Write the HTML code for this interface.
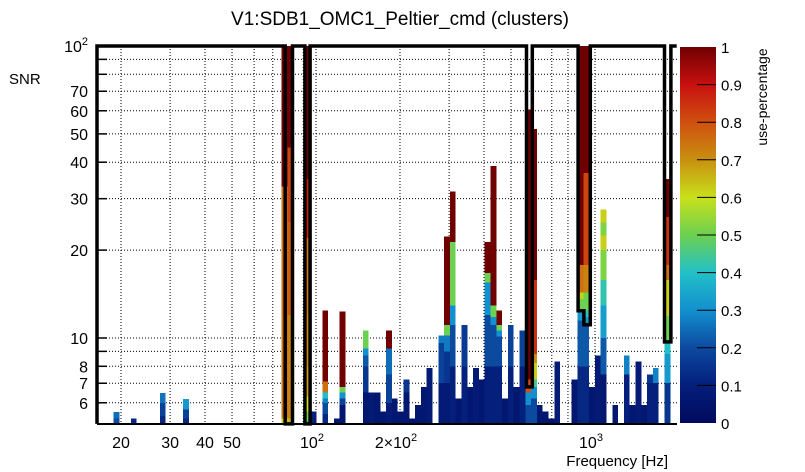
<!DOCTYPE html>
<html><head><meta charset="utf-8"><style>
body{margin:0;background:#fff;}
svg{display:block;font-family:"Liberation Sans",sans-serif;}
</style></head><body>
<svg id="chart" width="805" height="472" viewBox="0 0 805 472">
<defs>
<linearGradient id="cbar" x1="0" y1="1" x2="0" y2="0">
<stop offset="0" stop-color="#000a5c"/><stop offset="0.1" stop-color="#041f7c"/><stop offset="0.2" stop-color="#0c4aa0"/>
<stop offset="0.3" stop-color="#1390cf"/><stop offset="0.4" stop-color="#22c0c8"/><stop offset="0.5" stop-color="#6cd050"/>
<stop offset="0.6" stop-color="#c8e01a"/><stop offset="0.7" stop-color="#c89010"/><stop offset="0.8" stop-color="#d05010"/>
<stop offset="0.9" stop-color="#c81010"/><stop offset="1" stop-color="#700000"/>
</linearGradient>
</defs>
<rect x="0" y="0" width="805" height="472" fill="#fff"/>
<text x="400" y="25" font-size="19" text-anchor="middle">V1:SDB1_OMC1_Peltier_cmd (clusters)</text>
<text x="9" y="84" font-size="15">SNR</text>
<text x="668" y="466" font-size="15" text-anchor="end">Frequency [Hz]</text>
<g id="grid"></g>
<g id="cells"></g>
<g id="axes"></g>
<g id="outline"></g>
<g id="cb">
<rect x="680" y="47" width="36" height="376" fill="url(#cbar)"/>
<text x="767" y="97" font-size="14" text-anchor="middle" transform="rotate(-90 767 97)">use-percentage</text>
</g>
</svg>
<script>
// ---- data ----
const xGridFreqs = [20,30,40,50,60,70,80,90,100,200,300,400,500,600,700,800,900,1000];
const yGridSnr = [6,7,8,9,10,20,30,40,50,60,70,80,90];
const xTickLabels = [["20",20],["30",30],["40",40],["50",50]];
const yTickLabels = ["6","7","8","10","20","30","40","50","60","70"];
const yTickVals = [6,7,8,10,20,30,40,50,60,70];
const cbTicks = [0,0.1,0.2,0.3,0.4,0.5,0.6,0.7,0.8,0.9,1];
const binIdx = [2,5,10,14,31,32,35,36,38,40,41,45,46,47,48,49,50,51,52,53,54,55,56,58,59,60,61,62,63,64,65,66,67,68,69,70,71,72,73,74,75,76,77,78,81,82,83,84,85,86,88,90,91,92,93,94,95,97];
const segTops = [
[5.3,5.58],[5.3],[5.4,6.0,6.48],[5.3,5.7,6.18],
[5.3,33,100],[5.3,12,25,45,100],[5.2,5.6,6.3,8,12,22,35,100],[5.6],
[5.5,6.0,6.2,6.5,7.1,12.4],[5.3],[5.9,6.2,6.5,6.8,12.3],[6.5,8.0,8.7,9.2,10.6],[6.5],[6.5],[5.6],
[6,7.5,9.2,10.6],[6.2],[5.6],[6.5,7.2],[5.3],[5.9],[6.8],[7.9],
[7,9.6,10.2],[7,9,10.2,11.1,22.3],[8,11.1,12.9,21.3,31.8],[6.2],[8,11.1],[6.8],[7.9],[7.2],
[8,12,15.5,16.7,21.3],[8,11.1,11.8,12.9,38.8],[8,10.1,10.6,11.1,12.4],[6.2],[8,11.1],[6.8],[8,10.6],
[5.9,6.5,7.2,60.5],[6.2,6.8,7.2,8.2,8.8,9.7,15.8,52],[5.9],[5.6],[5.3],[8.3],[7.2],
[8,11.5,12.4,13.6,14.3,17.8,100],[8,11,11.8,12.4,14.3,17.8,36.7,100],[6.8],[8.7],
[7.5,10,12.9,15.8,20,22.4,24.9,27.5],[5.9],[7.5,8.7],[5.9],[8.3],[5.9],[7,7.5],[7,7.9],
[7,8.8,9.7,11.9,15.8,17.8,26,35.1]];
const segVals = [
[0.2,0.25],[0.12],[0.12,0.18,0.26],[0.12,0.18,0.32],
[0.62,0.75,1],[0.65,0.72,0.78,0.82,1],[0.38,0.5,0.6,0.68,0.72,0.75,0.88,1],[0.1],
[0.12,0.2,0.28,0.4,0.75,1],[0.06],[0.06,0.18,0.3,0.5,1],[0.06,0.15,0.22,0.3,0.5],[0.08],[0.06],[0.06],
[0.08,0.18,0.25,1],[0.06],[0.06],[0.06,0.15],[0.05],[0.06],[0.06],[0.08],
[0.08,0.18,0.27],[0.08,0.15,0.27,0.5,1],[0.1,0.2,0.3,0.5,1],[0.06],[0.1,0.16],[0.06],[0.08],[0.06],
[0.1,0.2,0.3,0.5,1],[0.1,0.2,0.3,0.5,1],[0.1,0.2,0.3,0.5,1],[0.06],[0.1,0.18],[0.06],[0.1,0.18],
[0.2,0.3,0.8,1],[0.2,0.3,0.45,0.62,0.7,0.85,0.85,1],[0.06],[0.06],[0.05],[0.08],[0.06],
[0.12,0.22,0.32,0.5,0.62,0.75,1],[0.12,0.22,0.32,0.42,0.5,0.72,0.82,1],[0.06],[0.08],
[0.06,0.22,0.33,0.42,0.52,0.62,0.52,0.62],[0.06],[0.1,0.28],[0.06],[0.08],[0.06],[0.1,0.15],[0.1,0.28],
[0.15,0.32,0.4,0.5,0.62,0.75,0.85,1]];
// outline in (bin, snr) coordinates
const outlineBins = [-0.85,-0.85,31.6,31.6,32.85,32.85,35.0,35.0,35.9,35.9,73.2,73.2,74.2,74.2,82.1,82.1,83.1,83.1,84.2,84.2,97.0,97.0,98.1,98.1,99.1];
const outlineSnr  = [5.08,100,100,5.08,5.08,100,100,5.08,5.08,100,100,6.8,6.8,100,100,12.4,12.4,11.1,11.1,100,100,9.7,9.7,100,100];

// ---- scales ----
const SNRMIN=5.08, SNRMAX=100;
function xf(f){return 316+279*Math.log10(f/100);}
function xb(b){return 97+5.8*(b+0.85);}
function ys(s){return 338-292*Math.log10(s/10);}
const stops=[[0,[0,10,92]],[0.1,[4,31,124]],[0.2,[12,74,160]],[0.3,[19,144,207]],[0.4,[34,192,200]],[0.5,[108,208,80]],[0.6,[200,224,26]],[0.7,[200,144,16]],[0.8,[208,80,16]],[0.9,[200,16,16]],[1,[112,0,0]]];
function col(v){v=Math.max(0,Math.min(1,v));for(let i=1;i<stops.length;i++){if(v<=stops[i][0]){const a=stops[i-1],b=stops[i],t=(v-a[0])/(b[0]-a[0]);const c=a[1].map((x,j)=>Math.round(x+(b[1][j]-x)*t));return `rgb(${c})`;}}return 'rgb(112,0,0)';}
const NS='http://www.w3.org/2000/svg';
function mk(tag,attrs,parent){const e=document.createElementNS(NS,tag);for(const k in attrs)e.setAttribute(k,attrs[k]);parent.appendChild(e);return e;}

// grid
const grid=document.getElementById('grid');
xGridFreqs.forEach(f=>{const l=mk('line',{x1:xf(f),x2:xf(f),y1:46,y2:424,stroke:'#000','stroke-width':1,'stroke-dasharray':'1,2'},grid);

});
yGridSnr.forEach(s=>{const l=mk('line',{x1:97,x2:677,y1:ys(s),y2:ys(s),stroke:'#000','stroke-width':1,'stroke-dasharray':'1,2'},grid);

});

// cells
const cells=document.getElementById('cells');
binIdx.forEach((b,i)=>{let lo=SNRMIN;segTops[i].forEach((t,j)=>{const r=mk('rect',{x:xb(b),y:ys(t),width:5.8,height:ys(lo)-ys(t),fill:col(segVals[i][j]),'shape-rendering':'crispEdges'},cells);


lo=t;});});

// axes
const ax=document.getElementById('axes');
const bl=mk('line',{x1:97,x2:677,y1:424,y2:424,stroke:'#000','stroke-width':2},ax);


yGridSnr.forEach(s=>{const t=mk('line',{x1:97,x2:107,y1:ys(s),y2:ys(s),stroke:'#000','stroke-width':1.5},ax);

});
yTickVals.forEach((s,i)=>{const t=mk('text',{x:88,y:ys(s)+6,'font-size':16,'text-anchor':'end'},ax);t.textContent=yTickLabels[i];

});
const y100=mk('text',{x:88,y:ys(100)+6,'font-size':16,'text-anchor':'end'},ax);
y100.innerHTML='10<tspan dy="-7" font-size="11">2</tspan>';


xTickLabels.forEach(([lab,f])=>{const t=mk('text',{x:xf(f),y:448,'font-size':16,'text-anchor':'middle'},ax);t.textContent=lab;

});
[[100,'10','2'],[200,'2×10','2'],[1000,'10','3']].forEach(([f,a,e])=>{const t=mk('text',{x:xf(f)-4,y:448,'font-size':16,'text-anchor':'middle'},ax);
t.innerHTML=a+'<tspan dy="-7" font-size="11">'+e+'</tspan>';

});

// outline
const pts=outlineBins.map((b,i)=>`${xb(b).toFixed(1)},${ys(outlineSnr[i]).toFixed(1)}`).join(' ');
const pl=mk('polyline',{points:pts,fill:'none',stroke:'#000','stroke-width':3.5,'stroke-linejoin':'miter'},document.getElementById('outline'));



// colorbar ticks
const cb=document.getElementById('cb');
cbTicks.forEach(v=>{const y=423-376*v;
if(v>0&&v<1){const t=mk('line',{x1:697,x2:716,y1:y,y2:y,stroke:'#000','stroke-width':1},cb);

}
const tx=mk('text',{x:721,y:y+6,'font-size':15},cb);tx.textContent=String(v);

});
</script>
</body></html>
